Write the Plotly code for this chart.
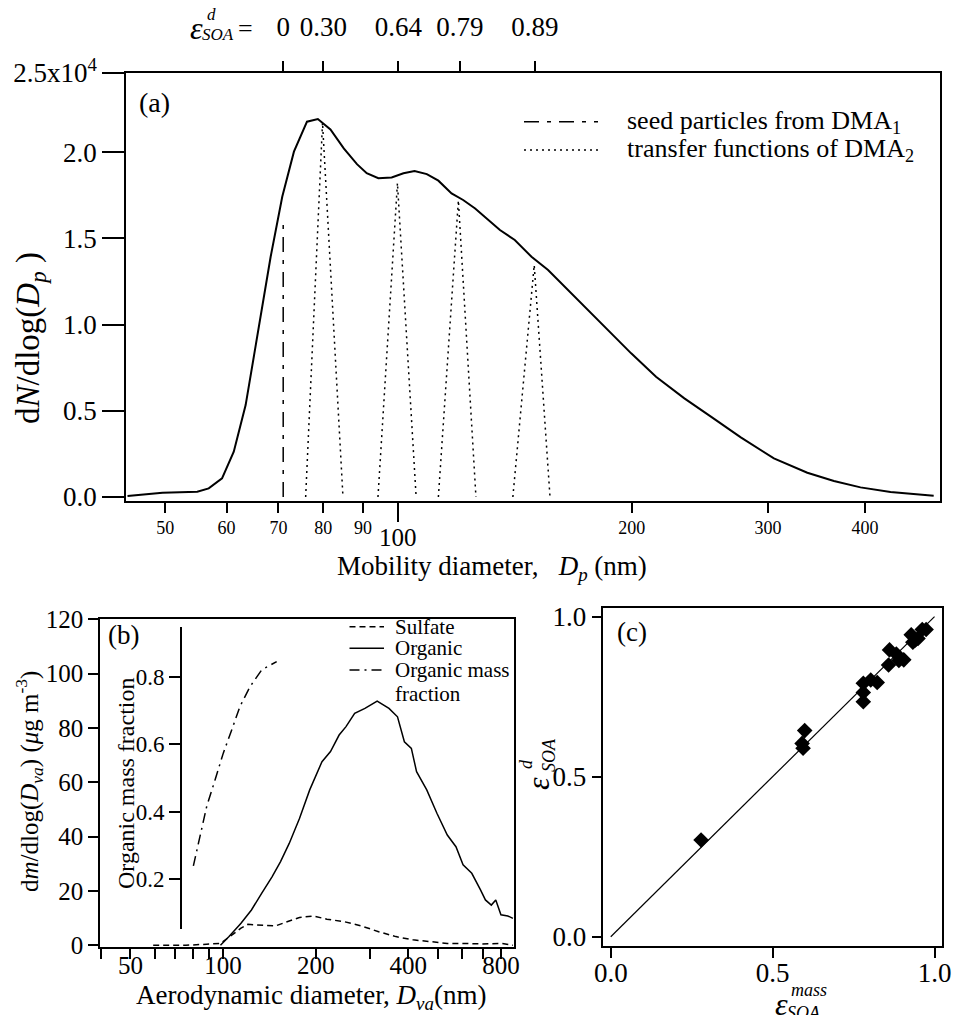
import math
import plotly.graph_objects as go

W, H = 953, 1015
FONT = "Liberation Serif"

# ---------------- (a) number size distribution (x10^4) ----------------
dp_nm = [44.7, 49.6, 55.0, 56.9, 59.2, 61.3, 63.5, 65.1, 66.7, 68.4,
         70.8, 73.3, 76.2, 78.7, 81.7, 85.0, 88.4, 91.0, 94.2, 98.0,
         101.5, 104.9, 108.8, 112.6, 117.1, 121.2, 125.6, 130.6, 135.2, 141.3,
         148.5, 156.0, 163.0, 168.0, 173.9, 186.3, 199.7, 215.0, 233.9, 253.1,
         276.6, 305.2, 337.1, 364.8, 394.8, 431.6, 490.7]
dndlogdp = [0.006, 0.025, 0.031, 0.05, 0.108, 0.263, 0.533, 0.813, 1.103, 1.393,
            1.741, 2.002, 2.176, 2.191, 2.131, 2.021, 1.930, 1.877, 1.848, 1.853,
            1.877, 1.890, 1.872, 1.834, 1.760, 1.722, 1.673, 1.606, 1.548, 1.490,
            1.393, 1.316, 1.23, 1.171, 1.103, 0.968, 0.833, 0.697, 0.572, 0.466,
            0.346, 0.224, 0.141, 0.093, 0.056, 0.029, 0.008]

seed_dp = [71, 71]
seed_y = [0, 1.62]

# DMA2 transfer functions (triangles)
tf_left = [75.9, 94.1, 112.6, 140.5]
tf_peak = [79.8, 99.7, 119.5, 149.7]
tf_right = [84.8, 105.4, 125.9, 156.9]
tf_top = [2.17, 1.82, 1.72, 1.345]

eps_dp = [71, 80, 100, 120, 150]
eps_labels = ["0", "0.30", "0.64", "0.79", "0.89"]

dp_ticks = [50, 60, 70, 80, 90, 100, 200, 300, 400]

# ---------------- (b) AMS mass distributions ----------------
dva_org = [98.1, 104.6, 114.4, 123.7, 133.5, 144.3, 153.8, 164.1, 177.2, 191.3,
           209.7, 223.5, 238.4, 251.0, 267.8, 289.2, 316.9, 346.2, 369.0, 388.5,
           409.3, 425.6, 459.3, 495.6, 535.6, 571.5, 602.7, 643.3, 686.7, 712.4,
           744.6, 769.8, 800.1, 842.4, 875.3]
organic = [0, 3.2, 8.1, 13.0, 19.1, 25.2, 30.8, 37.5, 46.7, 57.2,
           67.6, 71.3, 77.4, 80.5, 85.4, 87.2, 89.9, 87.2, 84.1, 74.9,
           72.5, 63.9, 57.2, 48.6, 40.6, 36.3, 29.6, 26.5, 20.4, 16.7,
           14.8, 16.7, 11.2, 10.8, 9.9]

dva_sulf = [59.3, 75.8, 88.5, 98.1, 108.7, 114.4, 120.5, 133.5, 148.0, 159.9,
            177.2, 196.3, 217.6, 247.6, 282.0, 320.4, 364.5, 414.4, 471.1, 535.6,
            602.7, 694.8, 800.1, 875.3]
sulfate = [0, 0, 0.4, 0.7, 4.4, 6.3, 7.7, 7.5, 7.1, 8.5,
           10.2, 10.8, 9.6, 8.7, 7.1, 5.0, 3.2, 2.0, 1.3, 0.7,
           0.7, 0.5, 0.7, 0]

dva_frac = [80.1, 84.2, 88.5, 94.2, 100.2, 106.7, 113.5, 122.4, 133.6, 149.4]
org_frac = [0.238, 0.325, 0.415, 0.494, 0.574, 0.643, 0.713, 0.772, 0.822, 0.847]

dva_ticks = [40, 50, 60, 70, 80, 90, 100, 200, 300, 400, 500, 600, 700, 800]
dva_labeled = [50, 100, 200, 400, 800]

# ---------------- (c) eps_d vs eps_mass ----------------
eps_mass = [0.279, 0.591, 0.599, 0.594, 0.780, 0.780, 0.780, 0.803, 0.823, 0.858,
            0.861, 0.882, 0.890, 0.905, 0.928, 0.933, 0.941, 0.949, 0.962, 0.974]
eps_d = [0.302, 0.604, 0.644, 0.589, 0.792, 0.763, 0.734, 0.802, 0.794, 0.849,
         0.896, 0.883, 0.863, 0.865, 0.943, 0.920, 0.927, 0.932, 0.960, 0.960]
one_to_one = [0, 1]


def px(x):
    return x / W


def py(y):
    return 1 - y / H


def tf(size):
    return dict(family=FONT, size=size, color="black")


SEED_DASH = "15px,8px,4px,8px"
TF_DASH = "2px,4px"
SULF_DASH = "6px,4px"
FRAC_DASH = "10px,5px,2px,5px"

fig = go.Figure()

# (a)
fig.add_trace(go.Scatter(x=dp_nm, y=dndlogdp, mode="lines", xaxis="x", yaxis="y",
                         line=dict(color="black", width=2)))
fig.add_trace(go.Scatter(x=seed_dp, y=seed_y, mode="lines", xaxis="x2", yaxis="y",
                         line=dict(color="black", width=1.5, dash=SEED_DASH)))
tx, ty = [], []
for l, p, r, t in zip(tf_left, tf_peak, tf_right, tf_top):
    tx += [l, p, r, None]
    ty += [0, t, 0, None]
fig.add_trace(go.Scatter(x=tx, y=ty, mode="lines", xaxis="x", yaxis="y",
                         line=dict(color="black", width=1.5, dash=TF_DASH)))

# (b)
fig.add_trace(go.Scatter(x=dva_sulf, y=sulfate, mode="lines", xaxis="x3", yaxis="y3",
                         line=dict(color="black", width=1.5, dash=SULF_DASH)))
fig.add_trace(go.Scatter(x=dva_org, y=organic, mode="lines", xaxis="x3", yaxis="y3",
                         line=dict(color="black", width=1.5)))
fig.add_trace(go.Scatter(x=dva_frac, y=org_frac, mode="lines", xaxis="x3", yaxis="y4",
                         line=dict(color="black", width=1.5, dash=FRAC_DASH)))

# (c)
fig.add_trace(go.Scatter(x=one_to_one, y=one_to_one, mode="lines", xaxis="x4", yaxis="y5",
                         line=dict(color="black", width=1.2)))
fig.add_trace(go.Scatter(x=eps_mass, y=eps_d, mode="markers", xaxis="x4", yaxis="y5",
                         marker=dict(symbol="diamond", size=12, color="black")))

AX = dict(showline=True, linecolor="black", linewidth=1.5, ticks="outside",
          tickcolor="black", tickwidth=1.5, showgrid=False, zeroline=False,
          automargin=False)

lg = [math.log10(44.5), math.log10(500)]
fig.update_layout(
    width=W, height=H, margin=dict(l=0, r=0, t=0, b=0),
    paper_bgcolor="white", plot_bgcolor="rgba(0,0,0,0)", showlegend=False,
    font=dict(family=FONT, color="black", size=24),
    xaxis=dict(AX, type="log", domain=[px(126), px(940)], range=lg, anchor="y",
               mirror=True, tickmode="array", tickvals=dp_ticks,
               ticktext=["" if v == 100 else str(v) for v in dp_ticks],
               ticklen=10, tickfont=tf(18),
               minor=dict(tickmode="array", tickvals=[100], ticks="outside",
                          ticklen=19, tickwidth=1.5, tickcolor="black")),
    xaxis2=dict(type="log", overlaying="x", side="top", anchor="y", range=lg,
                tickmode="array", tickvals=eps_dp, ticktext=eps_labels,
                ticks="outside", ticklen=11, tickwidth=1.5, tickcolor="black",
                showline=False, showgrid=False, zeroline=False, automargin=False,
                tickfont=tf(27), ticklabelstandoff=14),
    yaxis=dict(AX, domain=[py(501), py(72.7)], range=[-0.023, 2.46], anchor="x",
               mirror=True, tickmode="array", tickvals=[0, 0.5, 1, 1.5, 2, 2.46],
               ticktext=["0.0", "0.5", "1.0", "1.5", "2.0", "2.5x10<sup>4</sup>"],
               ticklen=22, tickfont=tf(27)),
    xaxis3=dict(AX, type="log", domain=[px(99.9), px(514.1)],
                range=[math.log10(39.8), math.log10(883)], anchor="y3", mirror=True,
                tickmode="array", tickvals=dva_ticks,
                ticktext=[str(v) if v in dva_labeled else "" for v in dva_ticks],
                ticklen=10, tickfont=tf(25), ticklabelstandoff=-15),
    yaxis3=dict(AX, domain=[py(947.3), py(619.3)], range=[-0.74, 120.0], anchor="x3",
                mirror=True, tickmode="linear", tick0=0, dtick=20, ticklen=10,
                tickfont=tf(25)),
    yaxis4=dict(AX, domain=[py(929.3), py(627.3)], range=[0.049, 0.949],
                anchor="free", position=px(180.8), side="left",
                tickmode="array", tickvals=[0.2, 0.4, 0.6, 0.8],
                ticktext=["0.2", "0.4", "0.6", "0.8"], ticklen=11,
                tickfont=tf(23)),
    xaxis4=dict(AX, domain=[px(603.3), px(942.3)], range=[-0.023, 1.024], anchor="y5",
                mirror=True, tickmode="array", tickvals=[0, 0.5, 1],
                ticktext=["0.0", "0.5", "1.0"], ticklen=10, tickfont=tf(27),
                ticklabelstandoff=-8),
    yaxis5=dict(AX, domain=[py(946), py(608.3)], range=[-0.029, 1.026], anchor="x4",
                mirror=True, tickmode="array", tickvals=[0, 0.5, 1],
                ticktext=["0.0", "0.5", "1.0"], ticklen=10, tickfont=tf(27)),
)


def note(x, y, text, size=27, angle=0, xanchor="center", **kw):
    fig.add_annotation(x=px(x), y=py(y), xref="paper", yref="paper", text=text,
                       showarrow=False, textangle=angle, xanchor=xanchor,
                       yanchor="middle", font=tf(size), **kw)


# panel labels
note(154, 102, "(a)", 28)
note(123, 635, "(b)", 27)
note(632, 632, "(c)", 27)

# axis titles
note(30, 338, "d<i>N</i>/dlog(<i>D<sub>p</sub></i> )", 33, angle=-90)
note(492, 568, "Mobility diameter,   <i>D<sub>p</sub></i> (nm)", 27)
fig.add_annotation(x=2, y=py(537), xref="x", yref="paper", text="100",
                   showarrow=False, font=tf(25))
note(29, 782, "d<i>m</i>/dlog(<i>D<sub>va</sub></i>) (<i>μ</i>g m<sup>-3</sup>)", 25, angle=-90)
note(311, 997, "Aerodynamic diameter, <i>D<sub>va</sub></i>(nm)", 27)
note(126, 783, "Organic mass fraction", 24, angle=-90)

# top epsilon label
note(196, 28, "<i>ε</i>", 32)
note(211, 15, "<i>d</i>", 17)
note(218, 35, "<i>SOA</i>", 17)
note(245, 28, "=", 26)

# (c) titles
note(781, 1004, "<i>ε</i>", 32)
note(809, 990, "<i>mass</i>", 18)
note(804, 1013, "<i>SOA</i>", 18)
note(538, 784, "<i>ε</i>", 32, angle=-90)
note(526, 764, "<i>d</i>", 18, angle=-90)
note(549, 755, "<i>SOA</i>", 18, angle=-90)


# legends drawn as line samples + text
def legend_row(x0, x1, y, dash, text, size):
    fig.add_shape(type="line", xref="paper", yref="paper", x0=px(x0), x1=px(x1),
                  y0=py(y), y1=py(y), line=dict(color="black", width=1.5, dash=dash))
    note(x1 + 27 if size > 24 else x1 + 9, y, text, size, xanchor="left")


legend_row(524, 598, 121.7, SEED_DASH, "seed particles from DMA<sub>1</sub>", 26)
legend_row(524, 598, 150, TF_DASH, "transfer functions of DMA<sub>2</sub>", 26)
legend_row(349.5, 384, 626.7, SULF_DASH, "Sulfate", 21)
legend_row(349.5, 384, 648.3, "solid", "Organic", 21)
legend_row(349.5, 384, 670, FRAC_DASH, "Organic mass", 21)
note(393, 694, "fraction", 21, xanchor="left")

# page body has a default 8px margin; remove it so the figure sits at the origin
fig.write_html("out.html", config={"displayModeBar": False},
               post_script="document.body.style.margin='0px';")
